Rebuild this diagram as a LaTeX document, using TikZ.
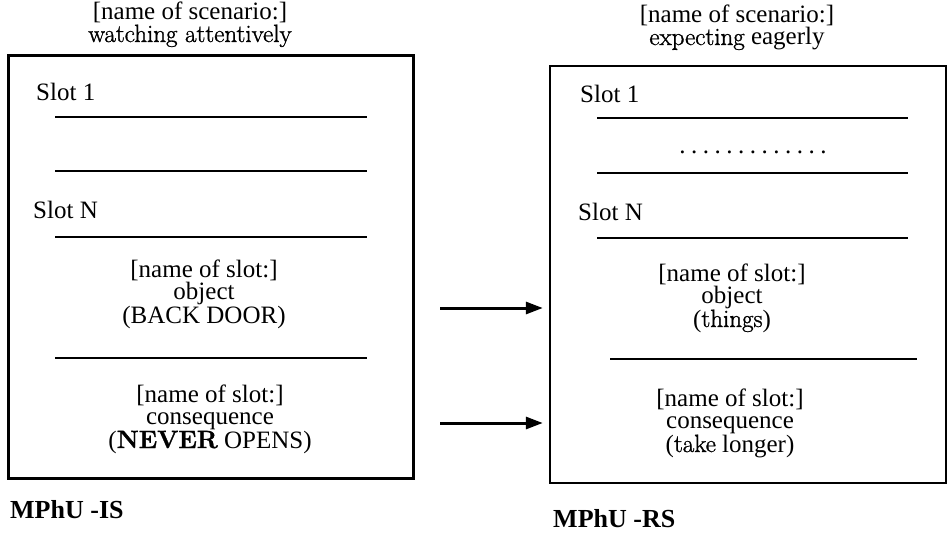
\documentclass[tikz,border=0pt]{standalone}
\usepackage{fontspec}
\setmainfont{Liberation Serif}
\newfontfamily\altfont[FakeBold=1.2]{Latin Modern Roman}
\usetikzlibrary{arrows.meta}
\newcommand{\dotrow}{.\hspace{5.5pt}.\hspace{5.5pt}.\hspace{5.5pt}.\hspace{5.5pt}.\hspace{5.5pt}.\hspace{5.5pt}.\hspace{5.5pt}.\hspace{5.5pt}.\hspace{5.5pt}.\hspace{5.5pt}.\hspace{5.5pt}.\hspace{5.5pt}.}
\begin{document}
\begin{tikzpicture}[x=1pt,y=-1pt,
  txt/.style={font=\fontsize{25}{22}\selectfont, inner sep=0pt},
  blk/.style={txt, align=center},
  lbl/.style={font=\fontsize{26}{26}\selectfont\bfseries, inner sep=0pt, anchor=base west},
  frame/.style={draw, line width=#1, inner sep=0pt},
  rulel/.style={line width=1.8pt},
  arr/.style={line width=3pt, -{Triangle[length=17pt,width=12pt]}, shorten >=6pt}]
\useasboundingbox (0,0) rectangle (950,535);

% frames
\node[frame=3pt, minimum width=405pt, minimum height=422pt] (boxL) at (210.5,267) {};
\node[frame=2.4pt, minimum width=396pt, minimum height=417pt] (boxR) at (748,274.5) {};

% titles (anchor = baseline of the last line)
\node[blk, anchor=base] (titleL) at (190,42) {[name of scenario:]\\{\altfont watching attentively}};
\node[blk, anchor=base] (titleR) at (737,45) {[name of scenario:]\\{\altfont expecting} eagerly};

% left contents
\node[txt, anchor=base west] (s1L) at (36,100) {Slot 1};
\draw[rulel] (55,117) -- (367,117);
\draw[rulel] (55,171) -- (367,171);
\node[txt, anchor=base west] (snL) at (33,218) {Slot N};
\draw[rulel] (55,237) -- (367,237);
\node[blk, anchor=base] (objL) at (204,323) {[name of slot:]\\object\\(BACK DOOR)};
\draw[rulel] (55,358) -- (367,358);
\node[blk, anchor=base] (conL) at (210,448) {[name of slot:]\\consequence\\({\altfont\bfseries NEVER} OPENS)};
\node[lbl] (mL) at (10,518) {MPhU -IS};

% right contents
\node[txt, anchor=base west] (s1R) at (580,102) {Slot 1};
\draw[rulel] (597,118) -- (908,118);
\node[txt, anchor=base] (dotsR) at (753,153) {\dotrow};
\draw[rulel] (597,173) -- (908,173);
\node[txt, anchor=base west] (snR) at (578,220) {Slot N};
\draw[rulel] (597,238) -- (908,238);
\node[blk, anchor=base] (objR) at (732,327) {[name of slot:]\\object\\({\altfont things})};
\draw[rulel] (610,359) -- (917,359);
\node[blk, anchor=base] (conR) at (730,452) {[name of slot:]\\consequence\\({\altfont take} longer)};
\node[lbl] (mR) at (553,527) {MPhU -RS};

% arrows
\coordinate (a1) at (440,308);
\coordinate (a2) at (440,423);
\draw[arr] (a1) -- (boxR.west |- a1);
\draw[arr] (a2) -- (boxR.west |- a2);
\end{tikzpicture}
\end{document}
